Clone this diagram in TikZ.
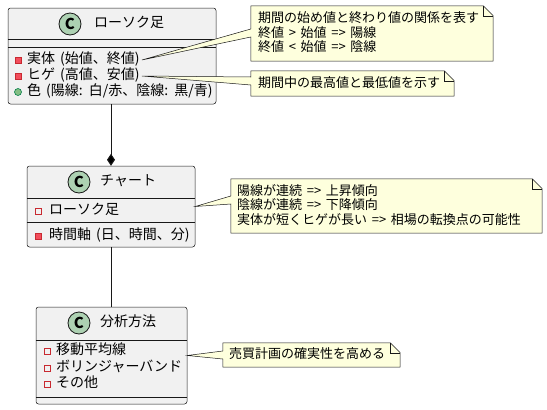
\documentclass[tikz,border=0pt]{standalone}
\usepackage{fontspec}
\setmainfont[WordSpace=1.6]{Noto Sans CJK JP}
\usetikzlibrary{arrows.meta,positioning}

\definecolor{boxfill}{HTML}{F1F1F1}
\definecolor{linecol}{HTML}{181818}
\definecolor{notefill}{HTML}{FEFFDD}
\definecolor{badgefill}{HTML}{ADD1B2}
\definecolor{privfill}{HTML}{F24D5C}
\definecolor{privline}{HTML}{C82930}
\definecolor{pubfill}{HTML}{84BE84}
\definecolor{publine}{HTML}{038048}

\tikzset{
	classbox/.style={draw=linecol, line width=0.5pt, fill=boxfill, rounded corners=2.5pt, inner sep=0pt},
	badge/.style={circle, draw=linecol, line width=0.8pt, fill=badgefill, minimum size=22pt, inner sep=0pt, font=\fontsize{15}{15}\selectfont\bfseries},
	title/.style={anchor=west, inner sep=0pt, text height=0.86em, text depth=0.14em, font=\fontsize{14}{16}\selectfont},
	member/.style={anchor=west, inner sep=0pt, text height=0.86em, text depth=0.14em, font=\fontsize{14}{16}\selectfont},
	privfield/.style={rectangle, draw=privline, line width=0.6pt, minimum size=6pt, inner sep=0pt},
	privmethod/.style={privfield, fill=privfill},
	pubmethod/.style={circle, draw=publine, line width=0.6pt, fill=pubfill, minimum size=7pt, inner sep=0pt},
	notebody/.style={inner sep=0pt},
	notetext/.style={anchor=west, inner sep=0pt, text height=0.86em, text depth=0.14em, font=\fontsize{13}{15}\selectfont},
	noteline/.style={draw=linecol, line width=0.5pt, fill=notefill},
	sep/.style={draw=linecol, line width=0.5pt},
	link/.style={draw=linecol, line width=1pt},
}

\begin{document}
\begin{tikzpicture}[x=1pt, y=-1pt]
	\useasboundingbox (0,0) rectangle (547,410);

	% Classes {c1, c2, c3}
	\node [classbox, minimum width=208pt, minimum height=96pt]	(c1) at (112,56)	{};
	\node [classbox, minimum width=168pt, minimum height=81pt]	(c2) at (111,206.5)	{};
	\node [classbox, minimum width=151pt, minimum height=97pt]	(c3) at (111.5,355.5)	{};

	% Headers
	\node [badge]	(b1) at (70,24)		{C};
	\node [title]	(t1) at (94,24)		{ローソク足};
	\node [badge]	(b2) at (79,182)	{C};
	\node [title]	(t2) at (100,182)	{チャート};
	\node [badge]	(b3) at (79,323)	{C};
	\node [title]	(t3) at (100,323)	{分析方法};

	% Separators
	\draw [sep] (c1.west |- 0,39)  -- (c1.east |- 0,39);
	\draw [sep] (c1.west |- 0,47)  -- (c1.east |- 0,47);
	\draw [sep] (c2.west |- 0,198) -- (c2.east |- 0,198);
	\draw [sep] (c2.west |- 0,222) -- (c2.east |- 0,222);
	\draw [sep] (c3.west |- 0,340) -- (c3.east |- 0,340);
	\draw [sep] (c3.west |- 0,397) -- (c3.east |- 0,397);

	% Members of c1
	\node [privmethod]	(i11) at (18,60)	{};
	\node [member]		(m11) at (27,60)	{実体 (始値、終値)};
	\node [privmethod]	(i12) at (18,76)	{};
	\node [member]		(m12) at (27,76)	{ヒゲ (高値、安値)};
	\node [pubmethod]	(i13) at (18,92)	{};
	\node [member]		(m13) at (27,92)	{色 (陽線: 白/赤、陰線: 黒/青)};

	% Members of c2
	\node [privfield]	(i21) at (38,211)	{};
	\node [member]		(m21) at (49,211)	{ローソク足};
	\node [privmethod]	(i22) at (38,236)	{};
	\node [member]		(m22) at (49,236)	{時間軸 (日、時間、分)};

	% Members of c3
	\node [privfield]	(i31) at (47,351)	{};
	\node [member]		(m31) at (56,351)	{移動平均線};
	\node [privfield]	(i32) at (47,368)	{};
	\node [member]		(m32) at (56,368)	{ボリンジャーバンド};
	\node [privfield]	(i33) at (47,384)	{};
	\node [member]		(m33) at (56,384)	{その他};

	% Links between classes
	\path [link] (c2.north |- c1.south) edge [-{Diamond[length=12pt,width=8pt]}] (c2.north);
	\path [link] (c2.south) edge (c2.south |- c3.north);

	% Note bodies {n1, n2, n3, n4}
	\node [notebody, minimum width=242pt, minimum height=55pt]	(n1) at (372,33.5)	{};
	\node [notebody, minimum width=203pt, minimum height=25pt]	(n2) at (352.5,83.5)	{};
	\node [notebody, minimum width=311pt, minimum height=54pt]	(n3) at (386.5,206)	{};
	\node [notebody, minimum width=177pt, minimum height=24pt]	(n4) at (311.5,355)	{};

	% Note outlines with their wedges
	\draw [noteline] (n1.south west) -- (n1.west |- 0,37) -- ([xshift=2pt]m11.east) -- (n1.west |- 0,29) -- (n1.north west)
		-- ([xshift=-10pt]n1.north east) -- ([yshift=-10pt]n1.north east) -- (n1.south east) -- cycle;
	\draw [sep] ([xshift=-10pt]n1.north east) -- ([xshift=-10pt,yshift=-10pt]n1.north east) -- ([yshift=-10pt]n1.north east);

	\draw [noteline] (n2.south west) -- (n2.west |- 0,85) -- ([xshift=2pt]m12.east) -- (n2.west |- 0,77) -- (n2.north west)
		-- ([xshift=-10pt]n2.north east) -- ([yshift=-10pt]n2.north east) -- (n2.south east) -- cycle;
	\draw [sep] ([xshift=-10pt]n2.north east) -- ([xshift=-10pt,yshift=-10pt]n2.north east) -- ([yshift=-10pt]n2.north east);

	\draw [noteline] (n3.south west) -- (n3.west |- 0,204) -- (c2.east) -- (n3.west |- 0,196) -- (n3.north west)
		-- ([xshift=-10pt]n3.north east) -- ([yshift=-10pt]n3.north east) -- (n3.south east) -- cycle;
	\draw [sep] ([xshift=-10pt]n3.north east) -- ([xshift=-10pt,yshift=-10pt]n3.north east) -- ([yshift=-10pt]n3.north east);

	\draw [noteline] (n4.south west) -- (n4.west |- 0,359) -- (c3.east) -- (n4.west |- 0,351) -- (n4.north west)
		-- ([xshift=-10pt]n4.north east) -- ([yshift=-10pt]n4.north east) -- (n4.south east) -- cycle;
	\draw [sep] ([xshift=-10pt]n4.north east) -- ([xshift=-10pt,yshift=-10pt]n4.north east) -- ([yshift=-10pt]n4.north east);

	% Note texts
	\node [notetext]	(l11) at (258,19)	{期間の始め値と終わり値の関係を表す};
	\node [notetext]	(l12) at (258,33.5)	{終値 > 始値 => 陽線};
	\node [notetext]	(l13) at (258,48)	{終値 < 始値 => 陰線};
	\node [notetext]	(l21) at (258,83.5)	{期間中の最高値と最低値を示す};
	\node [notetext]	(l31) at (237,191.5)	{陽線が連続 => 上昇傾向};
	\node [notetext]	(l32) at (237,206)	{陰線が連続 => 下降傾向};
	\node [notetext]	(l33) at (237,220.5)	{実体が短くヒゲが長い => 相場の転換点の可能性};
	\node [notetext]	(l41) at (229,355)	{売買計画の確実性を高める};
\end{tikzpicture}
\end{document}
